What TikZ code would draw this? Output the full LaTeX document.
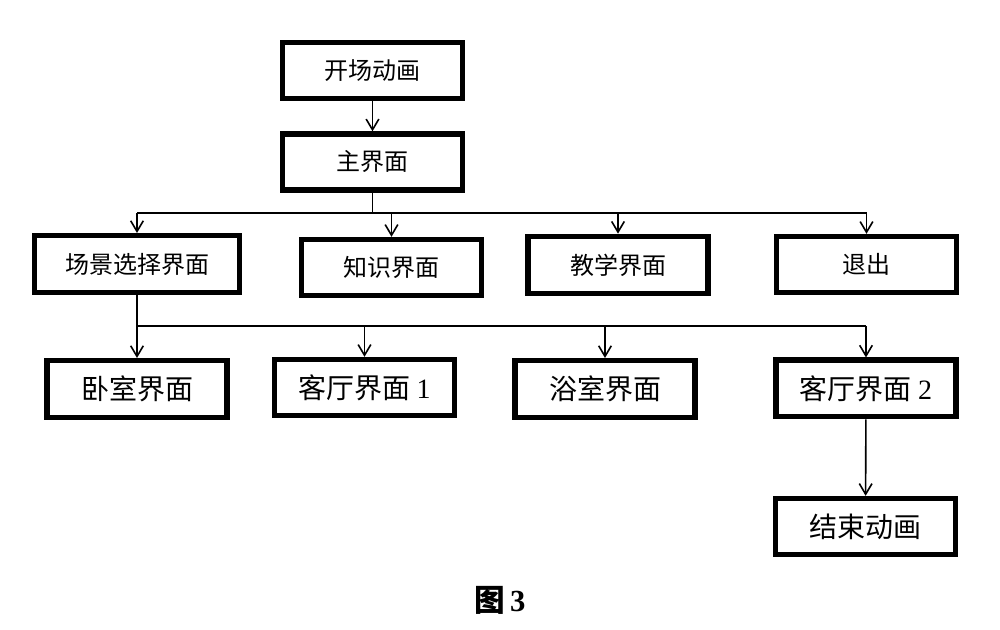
\documentclass[tikz,border=0pt]{standalone}
\usepackage{fontspec}
\setmainfont{Noto Sans CJK SC}
\newfontfamily\digitfont{Liberation Serif}
\usetikzlibrary{arrows.meta}
\tikzset{
  box/.style={draw=black, line width=4pt, fill=white, inner sep=0pt,
    minimum width=135pt, minimum height=42pt, font=\fontsize{18pt}{20pt}\selectfont},
  boxb/.style={box, font=\fontsize{21pt}{24pt}\selectfont},
  conn/.style={line width=1.2pt, draw=black},
  arr/.style={conn, -{Straight Barb[length=8pt, width=9.5pt, line width=1.2pt]}}
}
\begin{document}
\begin{tikzpicture}[x=0.75pt, y=-0.75pt]
\useasboundingbox (0,0) rectangle (1000,630);
\fill[white] (0,0) rectangle (1000,630);
% row 0
\node[box] (start) at (372.5,70.5) {开场动画};
\node[box] (main) at (372.5,162) {主界面};
% row 1
\node[box, minimum width=153.5pt, minimum height=42.5pt] (scene) at (137,264) {场景选择界面};
\node[box] (know) at (391.5,267.5) {知识界面};
\node[box, minimum height=43pt] (teach) at (618,265) {教学界面};
\node[box] (quit) at (866.5,264.5) {退出};
% row 2
\node[boxb, minimum height=42.5pt] (bed) at (137,389) {卧室界面};
\node[boxb] (liv1) at (364.5,387.5) {客厅界面 {\digitfont 1}};
\node[boxb, minimum height=42.5pt] (bath) at (605,389) {浴室界面};
\node[boxb, minimum height=42.5pt] (liv2) at (866,388.5) {客厅界面 {\digitfont 2}};
% row 3
\node[boxb] (end) at (865.5,526.5) {结束动画};
% caption
\node[inner sep=0pt, font=\fontsize{23pt}{26pt}\selectfont\bfseries] (cap) at (500,600) {图\,{\digitfont\bfseries 3}};
% connectors
\coordinate (b1) at (372.5,213);
\coordinate (b2) at (137,326);
\draw[arr] (start) -- (main);
\draw[conn] (main.south) -- (b1);
\draw[conn] (scene.north |- b1) -- (quit.north |- b1);
\draw[arr] (scene.north |- b1) -- (scene.north);
\draw[arr] (know.north |- b1) -- (know.north);
\draw[arr] (teach.north |- b1) -- (teach.north);
\draw[arr] (quit.north |- b1) -- (quit.north);
\draw[conn] (scene.south) -- (b2);
\draw[conn] (b2) -- (liv2.north |- b2);
\draw[arr] (b2) -- (bed.north);
\draw[arr] (liv1.north |- b2) -- (liv1.north);
\draw[arr] (bath.north |- b2) -- (bath.north);
\draw[arr] (liv2.north |- b2) -- (liv2.north);
\draw[arr] (liv2) -- (end);
\end{tikzpicture}
\end{document}
